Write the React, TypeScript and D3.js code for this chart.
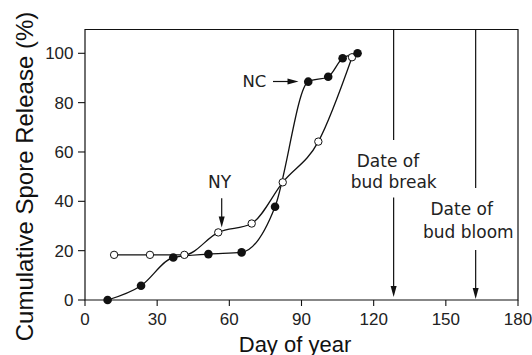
import React from "react";
import * as d3 from "d3";

const ncDays = [9.4, 23.3, 36.7, 51.3, 65.1, 79, 92.8, 101.1, 107.1, 113.3];
const ncValues = [0, 5.8, 17.2, 18.6, 19.3, 37.8, 88.5, 90.5, 98, 100];
const nyDays = [12.1, 27, 41.3, 55.4, 69.3, 82.2, 97, 111];
const nyValues = [18.3, 18.3, 18.3, 27.4, 31, 47.7, 64.2, 98.4];
const xTicks = [0, 30, 60, 90, 120, 150, 180];
const yTicks = [0, 20, 40, 60, 80, 100];
const budBreakDay = 128.3;
const budBloomDay = 162.4;

const W = 532;
const H = 355;
const L = 85;
const R = 518;
const B = 300;
const T = 29.5;

export default function App() {
  const x = d3.scaleLinear().domain([0, 180]).range([L, R]);
  const y = d3.scaleLinear().domain([0, 100]).range([B, 53.3]);
  const line = d3
    .line<[number, number]>()
    .x((d) => x(d[0]))
    .y((d) => y(d[1]))
    .curve(d3.curveMonotoneX);
  const nc: [number, number][] = ncDays.map((d, i) => [d, ncValues[i]]);
  const ny: [number, number][] = nyDays.map((d, i) => [d, nyValues[i]]);
  const axisFont = "'Liberation Sans', Arial, Helvetica, sans-serif";
  const annFont = "'DejaVu Sans', Verdana, sans-serif";
  const bx = x(budBreakDay);
  const bl = x(budBloomDay);
  const ah = (tx: number, ty: number, dir: "down" | "right") =>
    dir === "down"
      ? `M${tx},${ty} L${tx - 3},${ty - 11} L${tx + 3},${ty - 11} Z`
      : `M${tx},${ty} L${tx - 11},${ty - 3} L${tx - 11},${ty + 3} Z`;
  return (
    <svg
      width={W}
      height={H}
      style={{ position: "absolute", left: 0, top: 0, background: "#fff" }}
    >
      <rect x={0} y={0} width={W} height={H} fill="#fff" />
      {/* frame */}
      <path
        d={`M${L},${B} L${L},${T} L${R},${T} L${R},${B} Z`}
        fill="none"
        stroke="#111"
        strokeWidth={1.2}
      />
      {/* y ticks */}
      {yTicks.map((t) => (
        <g key={"y" + t}>
          <line x1={L - 7} x2={L} y1={y(t)} y2={y(t)} stroke="#111" strokeWidth={1.1} />
          <text
            x={73.5}
            y={y(t)}
            dy="0.36em"
            textAnchor="end"
            fontFamily={axisFont}
            fontSize={17}
            fill="#222"
          >
            {t}
          </text>
        </g>
      ))}
      {/* x ticks */}
      {xTicks.map((t) => (
        <g key={"x" + t}>
          <line x1={x(t)} x2={x(t)} y1={B} y2={B + 6} stroke="#111" strokeWidth={1.1} />
          <text
            x={x(t)}
            y={325}
            textAnchor="middle"
            fontFamily={axisFont}
            fontSize={17}
            fill="#222"
          >
            {t}
          </text>
        </g>
      ))}
      <text
        x={295}
        y={351.5}
        textAnchor="middle"
        fontFamily={axisFont}
        fontSize={22}
        fill="#111"
      >
        Day of year
      </text>
      <text
        transform={`translate(33.3,176.5) rotate(-90)`}
        textAnchor="middle"
        fontFamily={axisFont}
        fontSize={24}
        fill="#111"
      >
        Cumulative Spore Release (%)
      </text>

      {/* curves */}
      <path d={line(ny) || ""} fill="none" stroke="#111" strokeWidth={1.3} />
      <path d={line(nc) || ""} fill="none" stroke="#111" strokeWidth={1.3} />
      {ny.map((d, i) => (
        <circle
          key={"ny" + i}
          cx={x(d[0])}
          cy={y(d[1])}
          r={3.7}
          fill="#fff"
          stroke="#111"
          strokeWidth={1}
        />
      ))}
      {nc.map((d, i) => (
        <circle key={"nc" + i} cx={x(d[0])} cy={y(d[1])} r={4.3} fill="#111" />
      ))}

      {/* NC label */}
      <text x={242.5} y={86.7} fontFamily={annFont} fontSize={16.5} fill="#222">
        NC
      </text>
      <line x1={273} x2={290} y1={81.5} y2={81.5} stroke="#111" strokeWidth={1.2} />
      <path d={ah(298.5, 81.5, "right")} fill="#111" />

      {/* NY label */}
      <text
        x={219.5}
        y={188.3}
        textAnchor="middle"
        fontFamily={annFont}
        fontSize={17}
        fill="#222"
      >
        NY
      </text>
      <line x1={221.7} x2={221.7} y1={198.3} y2={218} stroke="#111" strokeWidth={1.2} />
      <path d={ah(221.7, 227.5, "down")} fill="#111" />

      {/* bud break */}
      <line x1={bx} x2={bx} y1={T} y2={140} stroke="#111" strokeWidth={1.2} />
      <text x={388} y={166.7} textAnchor="middle" fontFamily={annFont} fontSize={17} fill="#222">
        Date of
      </text>
      <text x={393.7} y={188.3} textAnchor="middle" fontFamily={annFont} fontSize={17} fill="#222">
        bud break
      </text>
      <line x1={bx} x2={bx} y1={197.5} y2={288} stroke="#111" strokeWidth={1.2} />
      <path d={ah(bx, 297, "down")} fill="#111" />

      {/* bud bloom */}
      <line x1={bl} x2={bl} y1={T} y2={188} stroke="#111" strokeWidth={1.2} />
      <text x={461.7} y={215} textAnchor="middle" fontFamily={annFont} fontSize={17} fill="#222">
        Date of
      </text>
      <text x={468.3} y={238.3} textAnchor="middle" fontFamily={annFont} fontSize={17} fill="#222">
        bud bloom
      </text>
      <line x1={bl} x2={bl} y1={250} y2={290} stroke="#111" strokeWidth={1.2} />
      <path d={ah(bl, 299, "down")} fill="#111" />
    </svg>
  );
}
